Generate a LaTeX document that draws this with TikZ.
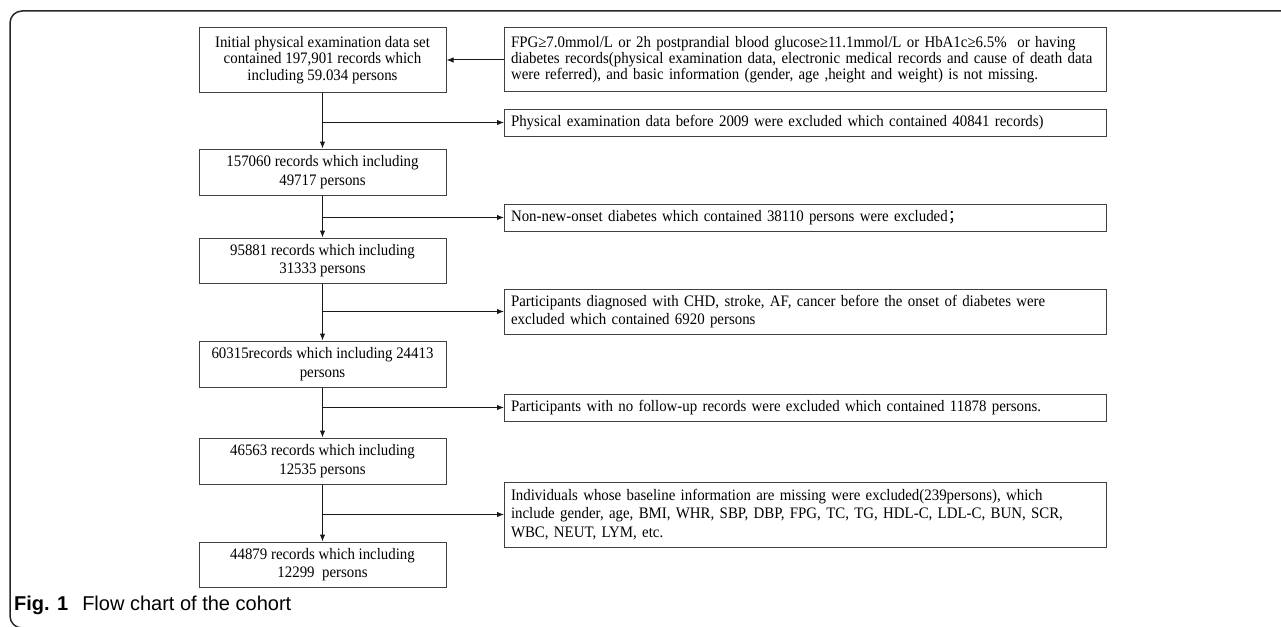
\documentclass[tikz,border=0pt]{standalone}
\usepackage{fontspec}
\setmainfont[FakeStretch=0.93]{Liberation Serif}
\newfontfamily\capfont{Liberation Sans}
\newfontfamily\cjk{Noto Sans CJK SC}
\usetikzlibrary{arrows.meta}

\begin{document}
\begin{tikzpicture}[
    x=1pt, y=-1pt, % one unit per pixel, y pointing down
    >={Latex[length=7pt,width=5.5pt]}, % Default arrow tip
    flow/.style={->, line width=1pt, draw=black!90}, % Connectors
    stage/.style={draw=black!75, line width=1pt, align=center, minimum width=247pt,
        inner xsep=4pt, inner ysep=2pt, minimum height=46pt,
        font=\fontsize{16}{18.5}\selectfont}, % Records kept
    excl/.style={draw=black!75, line width=1pt, align=left, text width=589pt,
        inner xsep=6.5pt, inner ysep=2pt, minimum height=27pt, anchor=west,
        font=\fontsize{16}{18.5}\selectfont} % Records removed
]

    % --- Frame ---
    \useasboundingbox (0,0) rectangle (1281,626);
    \draw[line width=1.5pt, black!85, rounded corners=12pt]
        (1295,11) -- (10,11) -- (10,628) -- (30,628);

    % --- Stages (left column) ---
    \node[stage, minimum height=64pt, font=\fontsize{16}{16.2}\selectfont] (init) at (322.5,60)
        {Initial physical examination data set\\contained 197,901 records which\\including 59.034 persons};
    \node[stage] (n1) at (322.5,172) {157060 records which including\\49717 persons};
    \node[stage, minimum height=45pt] (n2) at (322.5,260.5) {95881 records which including\\31333 persons};
    \node[stage] (n3) at (322.5,364) {60315records which including 24413\\persons};
    \node[stage] (n4) at (322.5,461) {46563 records which including\\12535 persons};
    \node[stage, minimum height=45pt] (n5) at (322.5,564.5) {44879 records which including\\12299\ \ persons};

    % --- Exclusions (right column) ---
    \node[excl, minimum height=64pt, inner ysep=1pt, font=\fontsize{16}{16.2}\selectfont] (ex0) at (504,59.5)
        {FPG≥7.0mmol/L or 2h postprandial blood glucose≥11.1mmol/L or HbA1c≥6.5\%\ \ or having\\
         diabetes records(physical examination data, electronic medical records and cause of death data\\
         were referred), and basic information (gender, age ,height and weight) is not missing.\par\vspace*{13pt}};
    \node[excl] (ex1) at (504,122.5)
        {Physical examination data before 2009 were excluded which contained 40841 records)};
    \node[excl] (ex2) at (504,217.5)
        {Non-new-onset diabetes which contained 38110 persons were excluded{\cjk ；}};
    \node[excl, minimum height=45pt] (ex3) at (504,311.5)
        {Participants diagnosed with CHD, stroke, AF, cancer before the onset of diabetes were\\
         excluded which contained 6920 persons};
    \node[excl] (ex4) at (504,407.5)
        {Participants with no follow-up records were excluded which contained 11878 persons.};
    \node[excl, minimum height=65pt] (ex5) at (504,514.5)
        {Individuals whose baseline information are missing were excluded(239persons), which\\
         include gender, age, BMI, WHR, SBP, DBP, FPG, TC, TG, HDL-C, LDL-C, BUN, SCR,\\
         WBC, NEUT, LYM, etc.};

    % --- Connectors ---
    \draw[flow] (ex0.west |- init.east) -- (init.east);
    \draw[flow] (init) -- (n1);
    \draw[flow] (n1) -- (n2);
    \draw[flow] (n2) -- (n3);
    \draw[flow] (n3) -- (n4);
    \draw[flow] (n4) -- (n5);
    \draw[flow] (init.south |- ex1.west) -- (ex1.west);
    \draw[flow] (n1.south |- ex2.west) -- (ex2.west);
    \draw[flow] (n2.south |- ex3.west) -- (ex3.west);
    \draw[flow] (n3.south |- ex4.west) -- (ex4.west);
    \draw[flow] (n4.south |- ex5.west) -- (ex5.west);

    % --- Caption ---
    \node[anchor=base west, inner sep=0pt, font=\capfont\fontsize{20}{23}\selectfont] (caption) at (14,610)
        {\textbf{Fig. 1}\hspace{0.7em}Flow chart of the cohort};

\end{tikzpicture}
\end{document}
